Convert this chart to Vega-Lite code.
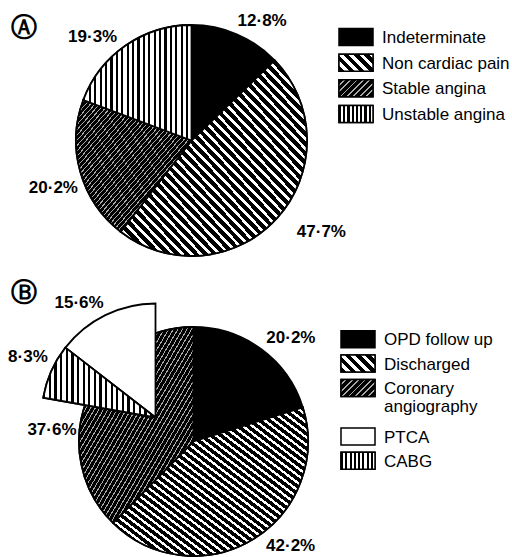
{
"$schema":"https://vega.github.io/schema/vega-lite/v6.json",
"padding":0,
"background":"white",
"bounds":"flush",
"spacing":45,
"params":[
{"name":"gDiag","value":{"gradient":"linear","x1":0,"y1":1,"x2":1,"y2":0,"stops":[
{"offset":0,"color":"#000"},{"offset":0.015,"color":"#000"},{"offset":0.015,"color":"#fff"},{"offset":0.025,"color":"#fff"},
{"offset":0.025,"color":"#000"},{"offset":0.04,"color":"#000"},{"offset":0.04,"color":"#fff"},{"offset":0.05,"color":"#fff"},
{"offset":0.05,"color":"#000"},{"offset":0.065,"color":"#000"},{"offset":0.065,"color":"#fff"},{"offset":0.075,"color":"#fff"},
{"offset":0.075,"color":"#000"},{"offset":0.09,"color":"#000"},{"offset":0.09,"color":"#fff"},{"offset":0.1,"color":"#fff"},
{"offset":0.1,"color":"#000"},{"offset":0.115,"color":"#000"},{"offset":0.115,"color":"#fff"},{"offset":0.125,"color":"#fff"},
{"offset":0.125,"color":"#000"},{"offset":0.14,"color":"#000"},{"offset":0.14,"color":"#fff"},{"offset":0.15,"color":"#fff"},
{"offset":0.15,"color":"#000"},{"offset":0.165,"color":"#000"},{"offset":0.165,"color":"#fff"},{"offset":0.175,"color":"#fff"},
{"offset":0.175,"color":"#000"},{"offset":0.19,"color":"#000"},{"offset":0.19,"color":"#fff"},{"offset":0.2,"color":"#fff"},
{"offset":0.2,"color":"#000"},{"offset":0.215,"color":"#000"},{"offset":0.215,"color":"#fff"},{"offset":0.225,"color":"#fff"},
{"offset":0.225,"color":"#000"},{"offset":0.24,"color":"#000"},{"offset":0.24,"color":"#fff"},{"offset":0.25,"color":"#fff"},
{"offset":0.25,"color":"#000"},{"offset":0.265,"color":"#000"},{"offset":0.265,"color":"#fff"},{"offset":0.275,"color":"#fff"},
{"offset":0.275,"color":"#000"},{"offset":0.29,"color":"#000"},{"offset":0.29,"color":"#fff"},{"offset":0.3,"color":"#fff"},
{"offset":0.3,"color":"#000"},{"offset":0.315,"color":"#000"},{"offset":0.315,"color":"#fff"},{"offset":0.325,"color":"#fff"},
{"offset":0.325,"color":"#000"},{"offset":0.34,"color":"#000"},{"offset":0.34,"color":"#fff"},{"offset":0.35,"color":"#fff"},
{"offset":0.35,"color":"#000"},{"offset":0.365,"color":"#000"},{"offset":0.365,"color":"#fff"},{"offset":0.375,"color":"#fff"},
{"offset":0.375,"color":"#000"},{"offset":0.39,"color":"#000"},{"offset":0.39,"color":"#fff"},{"offset":0.4,"color":"#fff"},
{"offset":0.4,"color":"#000"},{"offset":0.415,"color":"#000"},{"offset":0.415,"color":"#fff"},{"offset":0.425,"color":"#fff"},
{"offset":0.425,"color":"#000"},{"offset":0.44,"color":"#000"},{"offset":0.44,"color":"#fff"},{"offset":0.45,"color":"#fff"},
{"offset":0.45,"color":"#000"},{"offset":0.465,"color":"#000"},{"offset":0.465,"color":"#fff"},{"offset":0.475,"color":"#fff"},
{"offset":0.475,"color":"#000"},{"offset":0.49,"color":"#000"},{"offset":0.49,"color":"#fff"},{"offset":0.5,"color":"#fff"},
{"offset":0.5,"color":"#000"},{"offset":0.515,"color":"#000"},{"offset":0.515,"color":"#fff"},{"offset":0.525,"color":"#fff"},
{"offset":0.525,"color":"#000"},{"offset":0.54,"color":"#000"},{"offset":0.54,"color":"#fff"},{"offset":0.55,"color":"#fff"},
{"offset":0.55,"color":"#000"},{"offset":0.565,"color":"#000"},{"offset":0.565,"color":"#fff"},{"offset":0.575,"color":"#fff"},
{"offset":0.575,"color":"#000"},{"offset":0.59,"color":"#000"},{"offset":0.59,"color":"#fff"},{"offset":0.6,"color":"#fff"},
{"offset":0.6,"color":"#000"},{"offset":0.615,"color":"#000"},{"offset":0.615,"color":"#fff"},{"offset":0.625,"color":"#fff"},
{"offset":0.625,"color":"#000"},{"offset":0.64,"color":"#000"},{"offset":0.64,"color":"#fff"},{"offset":0.65,"color":"#fff"},
{"offset":0.65,"color":"#000"},{"offset":0.665,"color":"#000"},{"offset":0.665,"color":"#fff"},{"offset":0.675,"color":"#fff"},
{"offset":0.675,"color":"#000"},{"offset":0.69,"color":"#000"},{"offset":0.69,"color":"#fff"},{"offset":0.7,"color":"#fff"},
{"offset":0.7,"color":"#000"},{"offset":0.715,"color":"#000"},{"offset":0.715,"color":"#fff"},{"offset":0.725,"color":"#fff"},
{"offset":0.725,"color":"#000"},{"offset":0.74,"color":"#000"},{"offset":0.74,"color":"#fff"},{"offset":0.75,"color":"#fff"},
{"offset":0.75,"color":"#000"},{"offset":0.765,"color":"#000"},{"offset":0.765,"color":"#fff"},{"offset":0.775,"color":"#fff"},
{"offset":0.775,"color":"#000"},{"offset":0.79,"color":"#000"},{"offset":0.79,"color":"#fff"},{"offset":0.8,"color":"#fff"},
{"offset":0.8,"color":"#000"},{"offset":0.815,"color":"#000"},{"offset":0.815,"color":"#fff"},{"offset":0.825,"color":"#fff"},
{"offset":0.825,"color":"#000"},{"offset":0.84,"color":"#000"},{"offset":0.84,"color":"#fff"},{"offset":0.85,"color":"#fff"},
{"offset":0.85,"color":"#000"},{"offset":0.865,"color":"#000"},{"offset":0.865,"color":"#fff"},{"offset":0.875,"color":"#fff"},
{"offset":0.875,"color":"#000"},{"offset":0.89,"color":"#000"},{"offset":0.89,"color":"#fff"},{"offset":0.9,"color":"#fff"},
{"offset":0.9,"color":"#000"},{"offset":0.915,"color":"#000"},{"offset":0.915,"color":"#fff"},{"offset":0.925,"color":"#fff"},
{"offset":0.925,"color":"#000"},{"offset":0.94,"color":"#000"},{"offset":0.94,"color":"#fff"},{"offset":0.95,"color":"#fff"},
{"offset":0.95,"color":"#000"},{"offset":0.965,"color":"#000"},{"offset":0.965,"color":"#fff"},{"offset":0.975,"color":"#fff"},
{"offset":0.975,"color":"#000"},{"offset":0.99,"color":"#000"},{"offset":0.99,"color":"#fff"},{"offset":1,"color":"#fff"}
]}},
{"name":"gFine","value":{"gradient":"linear","x1":0,"y1":0,"x2":1,"y2":1,"stops":[
{"offset":0,"color":"#000"},{"offset":0.015,"color":"#000"},{"offset":0.015,"color":"#aaa"},{"offset":0.02,"color":"#aaa"},
{"offset":0.02,"color":"#000"},{"offset":0.035,"color":"#000"},{"offset":0.035,"color":"#aaa"},{"offset":0.04,"color":"#aaa"},
{"offset":0.04,"color":"#000"},{"offset":0.055,"color":"#000"},{"offset":0.055,"color":"#aaa"},{"offset":0.06,"color":"#aaa"},
{"offset":0.06,"color":"#000"},{"offset":0.075,"color":"#000"},{"offset":0.075,"color":"#aaa"},{"offset":0.08,"color":"#aaa"},
{"offset":0.08,"color":"#000"},{"offset":0.095,"color":"#000"},{"offset":0.095,"color":"#aaa"},{"offset":0.1,"color":"#aaa"},
{"offset":0.1,"color":"#000"},{"offset":0.115,"color":"#000"},{"offset":0.115,"color":"#aaa"},{"offset":0.12,"color":"#aaa"},
{"offset":0.12,"color":"#000"},{"offset":0.135,"color":"#000"},{"offset":0.135,"color":"#aaa"},{"offset":0.14,"color":"#aaa"},
{"offset":0.14,"color":"#000"},{"offset":0.155,"color":"#000"},{"offset":0.155,"color":"#aaa"},{"offset":0.16,"color":"#aaa"},
{"offset":0.16,"color":"#000"},{"offset":0.175,"color":"#000"},{"offset":0.175,"color":"#aaa"},{"offset":0.18,"color":"#aaa"},
{"offset":0.18,"color":"#000"},{"offset":0.195,"color":"#000"},{"offset":0.195,"color":"#aaa"},{"offset":0.2,"color":"#aaa"},
{"offset":0.2,"color":"#000"},{"offset":0.215,"color":"#000"},{"offset":0.215,"color":"#aaa"},{"offset":0.22,"color":"#aaa"},
{"offset":0.22,"color":"#000"},{"offset":0.235,"color":"#000"},{"offset":0.235,"color":"#aaa"},{"offset":0.24,"color":"#aaa"},
{"offset":0.24,"color":"#000"},{"offset":0.255,"color":"#000"},{"offset":0.255,"color":"#aaa"},{"offset":0.26,"color":"#aaa"},
{"offset":0.26,"color":"#000"},{"offset":0.275,"color":"#000"},{"offset":0.275,"color":"#aaa"},{"offset":0.28,"color":"#aaa"},
{"offset":0.28,"color":"#000"},{"offset":0.295,"color":"#000"},{"offset":0.295,"color":"#aaa"},{"offset":0.3,"color":"#aaa"},
{"offset":0.3,"color":"#000"},{"offset":0.315,"color":"#000"},{"offset":0.315,"color":"#aaa"},{"offset":0.32,"color":"#aaa"},
{"offset":0.32,"color":"#000"},{"offset":0.335,"color":"#000"},{"offset":0.335,"color":"#aaa"},{"offset":0.34,"color":"#aaa"},
{"offset":0.34,"color":"#000"},{"offset":0.355,"color":"#000"},{"offset":0.355,"color":"#aaa"},{"offset":0.36,"color":"#aaa"},
{"offset":0.36,"color":"#000"},{"offset":0.375,"color":"#000"},{"offset":0.375,"color":"#aaa"},{"offset":0.38,"color":"#aaa"},
{"offset":0.38,"color":"#000"},{"offset":0.395,"color":"#000"},{"offset":0.395,"color":"#aaa"},{"offset":0.4,"color":"#aaa"},
{"offset":0.4,"color":"#000"},{"offset":0.415,"color":"#000"},{"offset":0.415,"color":"#aaa"},{"offset":0.42,"color":"#aaa"},
{"offset":0.42,"color":"#000"},{"offset":0.435,"color":"#000"},{"offset":0.435,"color":"#aaa"},{"offset":0.44,"color":"#aaa"},
{"offset":0.44,"color":"#000"},{"offset":0.455,"color":"#000"},{"offset":0.455,"color":"#aaa"},{"offset":0.46,"color":"#aaa"},
{"offset":0.46,"color":"#000"},{"offset":0.475,"color":"#000"},{"offset":0.475,"color":"#aaa"},{"offset":0.48,"color":"#aaa"},
{"offset":0.48,"color":"#000"},{"offset":0.495,"color":"#000"},{"offset":0.495,"color":"#aaa"},{"offset":0.5,"color":"#aaa"},
{"offset":0.5,"color":"#000"},{"offset":0.515,"color":"#000"},{"offset":0.515,"color":"#aaa"},{"offset":0.52,"color":"#aaa"},
{"offset":0.52,"color":"#000"},{"offset":0.535,"color":"#000"},{"offset":0.535,"color":"#aaa"},{"offset":0.54,"color":"#aaa"},
{"offset":0.54,"color":"#000"},{"offset":0.555,"color":"#000"},{"offset":0.555,"color":"#aaa"},{"offset":0.56,"color":"#aaa"},
{"offset":0.56,"color":"#000"},{"offset":0.575,"color":"#000"},{"offset":0.575,"color":"#aaa"},{"offset":0.58,"color":"#aaa"},
{"offset":0.58,"color":"#000"},{"offset":0.595,"color":"#000"},{"offset":0.595,"color":"#aaa"},{"offset":0.6,"color":"#aaa"},
{"offset":0.6,"color":"#000"},{"offset":0.615,"color":"#000"},{"offset":0.615,"color":"#aaa"},{"offset":0.62,"color":"#aaa"},
{"offset":0.62,"color":"#000"},{"offset":0.635,"color":"#000"},{"offset":0.635,"color":"#aaa"},{"offset":0.64,"color":"#aaa"},
{"offset":0.64,"color":"#000"},{"offset":0.655,"color":"#000"},{"offset":0.655,"color":"#aaa"},{"offset":0.66,"color":"#aaa"},
{"offset":0.66,"color":"#000"},{"offset":0.675,"color":"#000"},{"offset":0.675,"color":"#aaa"},{"offset":0.68,"color":"#aaa"},
{"offset":0.68,"color":"#000"},{"offset":0.695,"color":"#000"},{"offset":0.695,"color":"#aaa"},{"offset":0.7,"color":"#aaa"},
{"offset":0.7,"color":"#000"},{"offset":0.715,"color":"#000"},{"offset":0.715,"color":"#aaa"},{"offset":0.72,"color":"#aaa"},
{"offset":0.72,"color":"#000"},{"offset":0.735,"color":"#000"},{"offset":0.735,"color":"#aaa"},{"offset":0.74,"color":"#aaa"},
{"offset":0.74,"color":"#000"},{"offset":0.755,"color":"#000"},{"offset":0.755,"color":"#aaa"},{"offset":0.76,"color":"#aaa"},
{"offset":0.76,"color":"#000"},{"offset":0.775,"color":"#000"},{"offset":0.775,"color":"#aaa"},{"offset":0.78,"color":"#aaa"},
{"offset":0.78,"color":"#000"},{"offset":0.795,"color":"#000"},{"offset":0.795,"color":"#aaa"},{"offset":0.8,"color":"#aaa"},
{"offset":0.8,"color":"#000"},{"offset":0.815,"color":"#000"},{"offset":0.815,"color":"#aaa"},{"offset":0.82,"color":"#aaa"},
{"offset":0.82,"color":"#000"},{"offset":0.835,"color":"#000"},{"offset":0.835,"color":"#aaa"},{"offset":0.84,"color":"#aaa"},
{"offset":0.84,"color":"#000"},{"offset":0.855,"color":"#000"},{"offset":0.855,"color":"#aaa"},{"offset":0.86,"color":"#aaa"},
{"offset":0.86,"color":"#000"},{"offset":0.875,"color":"#000"},{"offset":0.875,"color":"#aaa"},{"offset":0.88,"color":"#aaa"},
{"offset":0.88,"color":"#000"},{"offset":0.895,"color":"#000"},{"offset":0.895,"color":"#aaa"},{"offset":0.9,"color":"#aaa"},
{"offset":0.9,"color":"#000"},{"offset":0.915,"color":"#000"},{"offset":0.915,"color":"#aaa"},{"offset":0.92,"color":"#aaa"},
{"offset":0.92,"color":"#000"},{"offset":0.935,"color":"#000"},{"offset":0.935,"color":"#aaa"},{"offset":0.94,"color":"#aaa"},
{"offset":0.94,"color":"#000"},{"offset":0.955,"color":"#000"},{"offset":0.955,"color":"#aaa"},{"offset":0.96,"color":"#aaa"},
{"offset":0.96,"color":"#000"},{"offset":0.975,"color":"#000"},{"offset":0.975,"color":"#aaa"},{"offset":0.98,"color":"#aaa"},
{"offset":0.98,"color":"#000"},{"offset":0.995,"color":"#000"},{"offset":0.995,"color":"#aaa"},{"offset":1,"color":"#aaa"}
]}},
{"name":"gVert","value":{"gradient":"linear","x1":0,"y1":0,"x2":1,"y2":0,"stops":[
{"offset":0,"color":"#000"},{"offset":0.02,"color":"#000"},{"offset":0.02,"color":"#fff"},{"offset":0.05,"color":"#fff"},
{"offset":0.05,"color":"#000"},{"offset":0.07,"color":"#000"},{"offset":0.07,"color":"#fff"},{"offset":0.1,"color":"#fff"},
{"offset":0.1,"color":"#000"},{"offset":0.12,"color":"#000"},{"offset":0.12,"color":"#fff"},{"offset":0.15,"color":"#fff"},
{"offset":0.15,"color":"#000"},{"offset":0.17,"color":"#000"},{"offset":0.17,"color":"#fff"},{"offset":0.2,"color":"#fff"},
{"offset":0.2,"color":"#000"},{"offset":0.22,"color":"#000"},{"offset":0.22,"color":"#fff"},{"offset":0.25,"color":"#fff"},
{"offset":0.25,"color":"#000"},{"offset":0.27,"color":"#000"},{"offset":0.27,"color":"#fff"},{"offset":0.3,"color":"#fff"},
{"offset":0.3,"color":"#000"},{"offset":0.32,"color":"#000"},{"offset":0.32,"color":"#fff"},{"offset":0.35,"color":"#fff"},
{"offset":0.35,"color":"#000"},{"offset":0.37,"color":"#000"},{"offset":0.37,"color":"#fff"},{"offset":0.4,"color":"#fff"},
{"offset":0.4,"color":"#000"},{"offset":0.42,"color":"#000"},{"offset":0.42,"color":"#fff"},{"offset":0.45,"color":"#fff"},
{"offset":0.45,"color":"#000"},{"offset":0.47,"color":"#000"},{"offset":0.47,"color":"#fff"},{"offset":0.5,"color":"#fff"},
{"offset":0.5,"color":"#000"},{"offset":0.52,"color":"#000"},{"offset":0.52,"color":"#fff"},{"offset":0.55,"color":"#fff"},
{"offset":0.55,"color":"#000"},{"offset":0.57,"color":"#000"},{"offset":0.57,"color":"#fff"},{"offset":0.6,"color":"#fff"},
{"offset":0.6,"color":"#000"},{"offset":0.62,"color":"#000"},{"offset":0.62,"color":"#fff"},{"offset":0.65,"color":"#fff"},
{"offset":0.65,"color":"#000"},{"offset":0.67,"color":"#000"},{"offset":0.67,"color":"#fff"},{"offset":0.7,"color":"#fff"},
{"offset":0.7,"color":"#000"},{"offset":0.72,"color":"#000"},{"offset":0.72,"color":"#fff"},{"offset":0.75,"color":"#fff"},
{"offset":0.75,"color":"#000"},{"offset":0.77,"color":"#000"},{"offset":0.77,"color":"#fff"},{"offset":0.8,"color":"#fff"},
{"offset":0.8,"color":"#000"},{"offset":0.82,"color":"#000"},{"offset":0.82,"color":"#fff"},{"offset":0.85,"color":"#fff"},
{"offset":0.85,"color":"#000"},{"offset":0.87,"color":"#000"},{"offset":0.87,"color":"#fff"},{"offset":0.9,"color":"#fff"},
{"offset":0.9,"color":"#000"},{"offset":0.92,"color":"#000"},{"offset":0.92,"color":"#fff"},{"offset":0.95,"color":"#fff"},
{"offset":0.95,"color":"#000"},{"offset":0.97,"color":"#000"},{"offset":0.97,"color":"#fff"},{"offset":1,"color":"#fff"}
]}},
{"name":"gLDiag","value":{"gradient":"linear","x1":0,"y1":1,"x2":1.2,"y2":0.4,"stops":[
{"offset":0,"color":"#000"},{"offset":0.11,"color":"#000"},{"offset":0.11,"color":"#fff"},{"offset":0.2,"color":"#fff"},
{"offset":0.2,"color":"#000"},{"offset":0.31,"color":"#000"},{"offset":0.31,"color":"#fff"},{"offset":0.4,"color":"#fff"},
{"offset":0.4,"color":"#000"},{"offset":0.51,"color":"#000"},{"offset":0.51,"color":"#fff"},{"offset":0.6,"color":"#fff"},
{"offset":0.6,"color":"#000"},{"offset":0.71,"color":"#000"},{"offset":0.71,"color":"#fff"},{"offset":0.8,"color":"#fff"},
{"offset":0.8,"color":"#000"},{"offset":0.91,"color":"#000"},{"offset":0.91,"color":"#fff"},{"offset":1,"color":"#fff"}
]}},
{"name":"gLFine","value":{"gradient":"linear","x1":0,"y1":0,"x2":1.2,"y2":0.6,"stops":[
{"offset":0,"color":"#000"},{"offset":0.09,"color":"#000"},{"offset":0.09,"color":"#aaa"},{"offset":0.125,"color":"#aaa"},
{"offset":0.125,"color":"#000"},{"offset":0.215,"color":"#000"},{"offset":0.215,"color":"#aaa"},{"offset":0.25,"color":"#aaa"},
{"offset":0.25,"color":"#000"},{"offset":0.34,"color":"#000"},{"offset":0.34,"color":"#aaa"},{"offset":0.375,"color":"#aaa"},
{"offset":0.375,"color":"#000"},{"offset":0.465,"color":"#000"},{"offset":0.465,"color":"#aaa"},{"offset":0.5,"color":"#aaa"},
{"offset":0.5,"color":"#000"},{"offset":0.59,"color":"#000"},{"offset":0.59,"color":"#aaa"},{"offset":0.625,"color":"#aaa"},
{"offset":0.625,"color":"#000"},{"offset":0.715,"color":"#000"},{"offset":0.715,"color":"#aaa"},{"offset":0.75,"color":"#aaa"},
{"offset":0.75,"color":"#000"},{"offset":0.84,"color":"#000"},{"offset":0.84,"color":"#aaa"},{"offset":0.875,"color":"#aaa"},
{"offset":0.875,"color":"#000"},{"offset":0.965,"color":"#000"},{"offset":0.965,"color":"#aaa"},{"offset":1,"color":"#aaa"}
]}},
{"name":"gLVert","value":{"gradient":"linear","x1":0,"y1":0,"x2":1,"y2":0,"stops":[
{"offset":0,"color":"#000"},{"offset":0.0625,"color":"#000"},{"offset":0.0625,"color":"#fff"},{"offset":0.125,"color":"#fff"},
{"offset":0.125,"color":"#000"},{"offset":0.1875,"color":"#000"},{"offset":0.1875,"color":"#fff"},{"offset":0.25,"color":"#fff"},
{"offset":0.25,"color":"#000"},{"offset":0.3125,"color":"#000"},{"offset":0.3125,"color":"#fff"},{"offset":0.375,"color":"#fff"},
{"offset":0.375,"color":"#000"},{"offset":0.4375,"color":"#000"},{"offset":0.4375,"color":"#fff"},{"offset":0.5,"color":"#fff"},
{"offset":0.5,"color":"#000"},{"offset":0.5625,"color":"#000"},{"offset":0.5625,"color":"#fff"},{"offset":0.625,"color":"#fff"},
{"offset":0.625,"color":"#000"},{"offset":0.6875,"color":"#000"},{"offset":0.6875,"color":"#fff"},{"offset":0.75,"color":"#fff"},
{"offset":0.75,"color":"#000"},{"offset":0.8125,"color":"#000"},{"offset":0.8125,"color":"#fff"},{"offset":0.875,"color":"#fff"},
{"offset":0.875,"color":"#000"},{"offset":0.9375,"color":"#000"},{"offset":0.9375,"color":"#fff"},{"offset":1,"color":"#fff"}
]}}
],
"datasets":{
"pieA":[{"cat":"Indeterminate","pct":12.8},{"cat":"Non cardiac pain","pct":47.7},{"cat":"Stable angina","pct":20.2},{"cat":"Unstable angina","pct":19.3}],
"pieB":[{"cat":"OPD follow up","pct":20.2},{"cat":"Discharged","pct":42.2},{"cat":"Coronary angiography","pct":37.6}],
"pieBsub":[{"cat":"PTCA","pct":15.6},{"cat":"CABG","pct":8.3}]
},
"vconcat":[
{"width":383,"height":281,"data":{"name":"pieA"},
"title":{"text":"Ⓐ","anchor":"start","frame":"group","orient":"top","offset":-41,"dx":11,"font":"DejaVu Sans","fontSize":26,"fontWeight":"bold","color":"#000"},
"layer":[
{"encoding":{"theta":{"field":"pct","type":"quantitative","stack":true,"scale":{"nice":false,"zero":true}},"order":{"field":"cat","type":"ordinal","sort":"ascending"},"detail":{"field":"cat","type":"nominal"}},
"layer":[
{"mark":{"type":"arc","radius":115.5,"stroke":"#000","strokeWidth":1.8},"encoding":{"fill":{"condition":{"test":"datum.cat==='Indeterminate'","value":"#000"},"value":"#fff"}}},
{"mark":{"type":"arc","radius":115.5,"fill":{"expr":"gDiag"},"stroke":"#000","strokeWidth":1.8},"encoding":{"opacity":{"condition":{"test":"datum.cat==='Non cardiac pain'","value":1},"value":0}}},
{"mark":{"type":"arc","radius":115.5,"fill":{"expr":"gFine"},"stroke":"#000","strokeWidth":1.8},"encoding":{"opacity":{"condition":{"test":"datum.cat==='Stable angina'","value":1},"value":0}}},
{"mark":{"type":"arc","radius":115.5,"fill":{"expr":"gVert"},"stroke":"#000","strokeWidth":1.8},"encoding":{"opacity":{"condition":{"test":"datum.cat==='Unstable angina'","value":1},"value":0}}},
{"mark":{"type":"text","clip":true,"radius":139,"thetaOffset":0.131,"font":"Liberation Sans","fontWeight":"bold","fontSize":17},"encoding":{"text":{"field":"pct","type":"quantitative","format":"$.1f"},"opacity":{"condition":{"test":"datum.cat==='Indeterminate'","value":1},"value":0}}},
{"mark":{"type":"text","clip":true,"radius":159,"thetaOffset":-0.117,"font":"Liberation Sans","fontWeight":"bold","fontSize":17},"encoding":{"text":{"field":"pct","type":"quantitative","format":"$.1f"},"opacity":{"condition":{"test":"datum.cat==='Non cardiac pain'","value":1},"value":0}}},
{"mark":{"type":"text","clip":true,"radius":146,"thetaOffset":-0.054,"font":"Liberation Sans","fontWeight":"bold","fontSize":17},"encoding":{"text":{"field":"pct","type":"quantitative","format":"$.1f"},"opacity":{"condition":{"test":"datum.cat==='Stable angina'","value":1},"value":0}}},
{"mark":{"type":"text","clip":true,"radius":143,"thetaOffset":-0.157,"font":"Liberation Sans","fontWeight":"bold","fontSize":17},"encoding":{"text":{"field":"pct","type":"quantitative","format":"$.1f"},"opacity":{"condition":{"test":"datum.cat==='Unstable angina'","value":1},"value":0}}}
]},
{"encoding":{"y":{"field":"cat","type":"nominal","scale":{"type":"point","padding":0,"range":[37,114]},"axis":null}},
"layer":[
{"mark":{"type":"rect","height":17,"stroke":"#000","strokeWidth":1.5},"encoding":{"x":{"value":339},"x2":{"value":373},"fill":{"condition":{"test":"datum.cat==='Indeterminate'","value":"#000"},"value":"#fff"}}},
{"mark":{"type":"rect","height":17,"fill":{"expr":"gLDiag"},"stroke":"#000","strokeWidth":1.5},"encoding":{"x":{"value":339},"x2":{"value":373},"opacity":{"condition":{"test":"datum.cat==='Non cardiac pain'","value":1},"value":0}}},
{"mark":{"type":"rect","height":17,"fill":{"expr":"gLFine"},"stroke":"#000","strokeWidth":1.5},"encoding":{"x":{"value":339},"x2":{"value":373},"opacity":{"condition":{"test":"datum.cat==='Stable angina'","value":1},"value":0}}},
{"mark":{"type":"rect","height":17,"fill":{"expr":"gLVert"},"stroke":"#000","strokeWidth":1.5},"encoding":{"x":{"value":339},"x2":{"value":373},"opacity":{"condition":{"test":"datum.cat==='Unstable angina'","value":1},"value":0}}},
{"mark":{"type":"text","align":"left","baseline":"alphabetic","dy":6,"font":"Liberation Sans","fontSize":17},"encoding":{"x":{"value":382},"text":{"field":"cat","type":"nominal"}}}
]}
]},
{"width":387,"height":231,
"title":{"text":"Ⓑ","anchor":"start","frame":"group","orient":"top","offset":-26,"dx":11,"font":"DejaVu Sans","fontSize":26,"fontWeight":"bold","color":"#000"},
"resolve":{"scale":{"theta":"independent"}},
"layer":[
{"data":{"name":"pieB"},
"encoding":{"theta":{"field":"pct","type":"quantitative","stack":true,"scale":{"nice":false,"zero":true}},"order":{"field":"cat","type":"ordinal","sort":"descending"},"detail":{"field":"cat","type":"nominal"}},
"layer":[
{"mark":{"type":"arc","radius":114.5,"stroke":"#000","strokeWidth":1.8},"encoding":{"fill":{"condition":{"test":"datum.cat==='OPD follow up'","value":"#000"},"value":"#fff"}}},
{"mark":{"type":"arc","radius":114.5,"fill":{"expr":"gDiag"},"stroke":"#000","strokeWidth":1.8},"encoding":{"opacity":{"condition":{"test":"datum.cat==='Discharged'","value":1},"value":0}}},
{"mark":{"type":"arc","radius":114.5,"fill":{"expr":"gFine"},"stroke":"#000","strokeWidth":1.8},"encoding":{"opacity":{"condition":{"test":"datum.cat==='Coronary angiography'","value":1},"value":0}}},
{"mark":{"type":"text","radius":142,"thetaOffset":0.121,"font":"Liberation Sans","fontWeight":"bold","fontSize":17},"encoding":{"text":{"field":"pct","type":"quantitative","format":"$.1f"},"opacity":{"condition":{"test":"datum.cat==='OPD follow up'","value":1},"value":0}}},
{"mark":{"type":"text","radius":143,"thetaOffset":-0.2,"font":"Liberation Sans","fontWeight":"bold","fontSize":17},"encoding":{"text":{"field":"pct","type":"quantitative","format":"$.1f"},"opacity":{"condition":{"test":"datum.cat==='Discharged'","value":1},"value":0}}},
{"mark":{"type":"text","radius":142,"thetaOffset":-0.309,"font":"Liberation Sans","fontWeight":"bold","fontSize":17},"encoding":{"text":{"field":"pct","type":"quantitative","format":"$.1f"},"opacity":{"condition":{"test":"datum.cat==='Coronary angiography'","value":1},"value":0}}}
]},
{"data":{"name":"pieBsub"},
"encoding":{"theta":{"field":"pct","type":"quantitative","stack":true,"scale":{"nice":false,"zero":true,"range":[4.8869,6.2832]}},"order":{"field":"cat","type":"ordinal","sort":"ascending"},"detail":{"field":"cat","type":"nominal"}},
"layer":[
{"mark":{"type":"arc","radius":114,"xOffset":-38,"yOffset":-24,"fill":"#fff","stroke":"#000","strokeWidth":1.8}},
{"mark":{"type":"arc","radius":114,"xOffset":-38,"yOffset":-24,"fill":{"expr":"gVert"},"stroke":"#000","strokeWidth":1.8},"encoding":{"opacity":{"condition":{"test":"datum.cat==='CABG'","value":1},"value":0}}},
{"mark":{"type":"text","radius":141,"thetaOffset":0.023,"xOffset":-38,"yOffset":-24,"font":"Liberation Sans","fontWeight":"bold","fontSize":17},"encoding":{"text":{"field":"pct","type":"quantitative","format":"$.1f"},"opacity":{"condition":{"test":"datum.cat==='CABG'","value":1},"value":0}}},
{"mark":{"type":"text","radius":138,"thetaOffset":-0.131,"xOffset":-38,"yOffset":-24,"font":"Liberation Sans","fontWeight":"bold","fontSize":17},"encoding":{"text":{"field":"pct","type":"quantitative","format":"$.1f"},"opacity":{"condition":{"test":"datum.cat==='PTCA'","value":1},"value":0}}}
]},
{"encoding":{"y":{"field":"cat","type":"nominal","scale":{"type":"point","padding":0,"range":[13.3,134.8],"domain":["OPD follow up","Discharged","Coronary angiography","_","PTCA","CABG"]},"axis":null}},
"layer":[
{"data":{"name":"pieB"},"mark":{"type":"rect","height":17,"stroke":"#000","strokeWidth":1.5},"encoding":{"x":{"value":341},"x2":{"value":375},"fill":{"condition":{"test":"datum.cat==='OPD follow up'","value":"#000"},"value":"#fff"}}},
{"data":{"name":"pieB"},"mark":{"type":"rect","height":17,"fill":{"expr":"gLDiag"},"stroke":"#000","strokeWidth":1.5},"encoding":{"x":{"value":341},"x2":{"value":375},"opacity":{"condition":{"test":"datum.cat==='Discharged'","value":1},"value":0}}},
{"data":{"name":"pieB"},"mark":{"type":"rect","height":17,"fill":{"expr":"gLFine"},"stroke":"#000","strokeWidth":1.5},"encoding":{"x":{"value":341},"x2":{"value":375},"opacity":{"condition":{"test":"datum.cat==='Coronary angiography'","value":1},"value":0}}},
{"data":{"name":"pieBsub"},"mark":{"type":"rect","height":17,"fill":"#fff","stroke":"#000","strokeWidth":1.5},"encoding":{"x":{"value":341},"x2":{"value":375}}},
{"data":{"name":"pieBsub"},"mark":{"type":"rect","height":17,"fill":{"expr":"gLVert"},"stroke":"#000","strokeWidth":1.5},"encoding":{"x":{"value":341},"x2":{"value":375},"opacity":{"condition":{"test":"datum.cat==='CABG'","value":1},"value":0}}},
{"data":{"name":"pieB"},"mark":{"type":"text","align":"left","baseline":"alphabetic","dy":6,"lineHeight":18,"font":"Liberation Sans","fontSize":17},"encoding":{"x":{"value":384},"text":{"field":"cat","type":"nominal","condition":{"test":"datum.cat==='Coronary angiography'","value":["Coronary","angiography"]}}}},
{"data":{"name":"pieBsub"},"mark":{"type":"text","align":"left","baseline":"alphabetic","dy":6,"font":"Liberation Sans","fontSize":17},"encoding":{"x":{"value":384},"text":{"field":"cat","type":"nominal"}}}
]}
]}
],
"config":{
"view":{"stroke":null},
"locale":{"number":{"decimal":"·","thousands":",","grouping":[3],"currency":["","%"]}}
}
}
